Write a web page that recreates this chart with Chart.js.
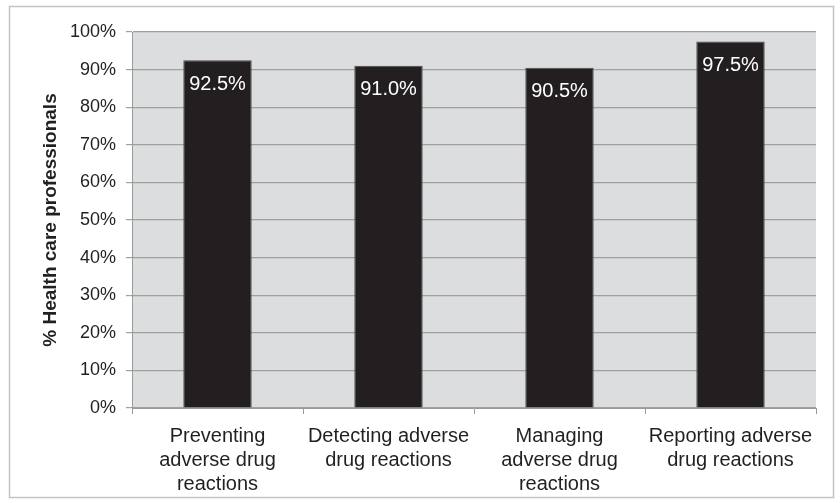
<!DOCTYPE html>
<html>
<head>
<meta charset="utf-8">
<script src="https://cdn.jsdelivr.net/npm/chart.js@4/dist/chart.umd.min.js"></script>
<style>
  html, body { margin: 0; padding: 0; background: #fff; }
  #wrap { width: 840px; height: 503px; position: relative; }
</style>
</head>
<body>
<div id="wrap"><canvas id="chart"></canvas></div>
<script>
const categories = [
    ['Preventing', 'adverse drug', 'reactions'],
    ['Detecting adverse', 'drug reactions'],
    ['Managing', 'adverse drug', 'reactions'],
    ['Reporting adverse', 'drug reactions']
];
const percentages = [92.5, 91.0, 90.5, 97.5];
const yTicks = [0, 10, 20, 30, 40, 50, 60, 70, 80, 90, 100];

const FONT = "'Liberation Sans', Arial, sans-serif";

// grey plot background + outer frame
const frame = {
    id: 'frame',
    beforeDraw(chart) {
        const c = chart.ctx, a = chart.chartArea;
        c.save();
        c.fillStyle = '#fff';
        c.fillRect(0, 0, chart.width, chart.height);
        c.fillStyle = '#dcdddf';
        c.fillRect(a.left, a.top, a.right - a.left, a.bottom - a.top);
        c.strokeStyle = '#c4c4c4';
        c.lineWidth = 1.5;
        c.strokeRect(9.5, 6.5, 824, 491);
        c.restore();
    }
};

// white value labels inside the top of each bar
const valueLabels = {
    id: 'valueLabels',
    afterDatasetsDraw(chart) {
        const c = chart.ctx;
        const meta = chart.getDatasetMeta(0);
        c.save();
        c.fillStyle = '#ffffff';
        c.font = '20px ' + FONT;
        c.textAlign = 'center';
        c.textBaseline = 'middle';
        meta.data.forEach(function (bar, i) {
            c.fillText(percentages[i].toFixed(1) + '%', bar.x, bar.y + 24);
        });
        c.restore();
    }
};

new Chart(document.getElementById('chart'), {
    type: 'bar',
    data: {
        labels: categories,
        datasets: [{
            data: percentages,
            backgroundColor: '#231f20',
            borderColor: '#4a4a4a',
            borderWidth: 1,
            categoryPercentage: 1,
            barPercentage: 0.4
        }]
    },
    options: {
        responsive: true,
        maintainAspectRatio: false,
        animation: false,
        layout: { padding: { left: 0, top: 32, right: 24, bottom: 0 } },
        plugins: {
            legend: { display: false },
            tooltip: { enabled: false }
        },
        scales: {
            x: {
                grid: {
                    display: true,
                    drawOnChartArea: false,
                    drawTicks: true,
                    tickLength: 6,
                    offset: true,
                    color: '#9a9a9a'
                },
                border: { color: '#9a9a9a', width: 1 },
                ticks: {
                    color: '#231f20',
                    font: { family: FONT, size: 20, lineHeight: 1.2 },
                    padding: 10,
                    maxRotation: 0,
                    autoSkip: false
                },
                afterFit: function (scale) { scale.height = 95; }
            },
            y: {
                min: 0,
                max: 100,
                afterBuildTicks: function (scale) {
                    scale.ticks = yTicks.map(function (v) { return { value: v }; });
                },
                grid: {
                    color: '#a0a0a0',
                    lineWidth: 1.2,
                    tickLength: 6,
                    drawTicks: true
                },
                border: { color: '#9a9a9a', width: 1 },
                ticks: {
                    color: '#231f20',
                    font: { family: FONT, size: 18 },
                    padding: 10,
                    callback: function (v) { return v + '%'; }
                },
                title: {
                    display: true,
                    text: '% Health care professionals',
                    color: '#231f20',
                    font: { family: FONT, size: 19, weight: 'bold' },
                    padding: { top: 39, bottom: 0 }
                },
                afterFit: function (scale) { scale.width = 132; }
            }
        }
    },
    plugins: [frame, valueLabels]
});
</script>
</body>
</html>
